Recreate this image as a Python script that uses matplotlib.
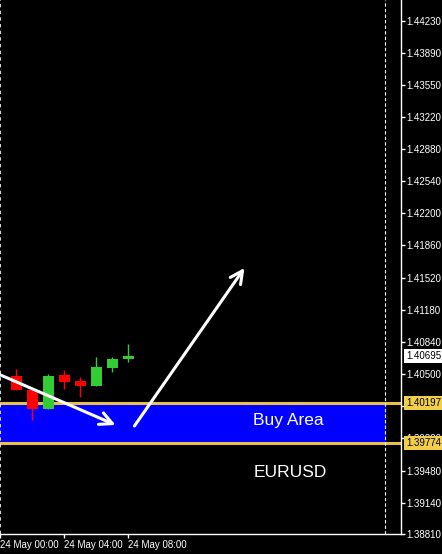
import matplotlib
matplotlib.use("Agg")
import matplotlib.pyplot as plt
import matplotlib.transforms as mtransforms

# hourly candles, hours after 24 May 00:00
hours = [1, 2, 3, 4, 5, 6, 7, 8]
opens = [1.40479, 1.40331, 1.40131, 1.40490, 1.40426, 1.40374, 1.40564, 1.40659]
highs = [1.40555, 1.40331, 1.40500, 1.40543, 1.40469, 1.40680, 1.40680, 1.40817]
lows = [1.40331, 1.40014, 1.40131, 1.40342, 1.40257, 1.40374, 1.40521, 1.40627]
closes = [1.40331, 1.40131, 1.40479, 1.40416, 1.40374, 1.40574, 1.40659, 1.40695]

y_ticks = [1.44230, 1.43890, 1.43550, 1.43220, 1.42880, 1.42540, 1.42200, 1.41860,
           1.41520, 1.41180, 1.40840, 1.40500, 1.40160, 1.39820, 1.39480, 1.39140, 1.38810]
# 1.40160 sits under the 1.40197 marker, so its label is left blank
y_labels = [f"{v:.5f}" if v != 1.40160 else "" for v in y_ticks]
x_ticks = [0, 4, 8]
x_labels = ["24 May 00:00", "24 May 04:00", "24 May 08:00"]

buy_top = 1.40197
buy_bottom = 1.39774
last_price = 1.40695

# drawn arrows: (start hour, start price, end hour, end price)
arrows = [(0.0, 1.40490, 7.19, 1.39962),
          (8.37, 1.39951, 15.25, 1.41621)]

fig = plt.figure(figsize=(4.42, 5.54), dpi=100, facecolor="black")
ax = fig.add_axes([0, 20 / 554, 401 / 442, 534 / 554])
ax.set_facecolor("black")
ax.set_xlim(-0.03, 25.03)
ax.set_ylim(1.38810, 1.44452)

# buy zone
ax.fill_between([-0.03, 24.0], buy_bottom, buy_top, color="#0000ff", zorder=1)
ax.axhline(buy_top, color="#e8c04c", lw=2.2, zorder=2)
ax.axhline(buy_bottom, color="#e8c04c", lw=2.2, zorder=2)
ax.axvline(24.0, color="white", lw=0.8, ls=(0, (3, 2)), zorder=2)
ax.axvline(0.0, color="white", lw=1.2, ls=(0, (2, 2)), zorder=2)

# candles
for h, o, hi, lo, c in zip(hours, opens, highs, lows, closes):
    col = "#32cd32" if c >= o else "#ff0000"
    ax.vlines(h, lo, hi, color=col, lw=1, zorder=3)
    ax.bar(h, abs(c - o), bottom=min(o, c), width=0.69, color=col, zorder=3)

for x0, y0, x1, y1 in arrows:
    ax.annotate("", xy=(x1, y1), xytext=(x0, y0),
                arrowprops=dict(arrowstyle="->,head_length=0.9,head_width=0.45",
                                color="white", lw=2.2, shrinkA=0, shrinkB=0),
                zorder=4)

ax.text(15.8, 1.40004, "Buy Area", color="white", fontsize=12.5,
        family="Liberation Sans", va="center", ha="left", zorder=5)
ax.text(15.8, 1.39455, "EURUSD", color="white", fontsize=12.5,
        family="Liberation Sans", va="center", ha="left", zorder=5)

# axes styling
for side in ["left", "top"]:
    ax.spines[side].set_visible(False)
for side in ["right", "bottom"]:
    ax.spines[side].set_color("white")
    ax.spines[side].set_linewidth(1)
ax.yaxis.tick_right()
ax.set_yticks(y_ticks)
ax.set_yticklabels(y_labels)
ax.set_xticks(x_ticks)
ax.set_xticklabels(x_labels, ha="left")
ax.tick_params(colors="white", labelsize=7, length=3, width=1, pad=1)
for lbl in ax.get_xticklabels() + ax.get_yticklabels():
    lbl.set_family("Liberation Sans")

# price labels on the right scale
trans = mtransforms.blended_transform_factory(ax.transAxes, ax.transData)
for price, bg in [(last_price, "white"), (buy_top, "#f2cf4a"), (buy_bottom, "#f2cf4a")]:
    ax.text(1.013, price, f"{price:.5f}", transform=trans, color="black", fontsize=7,
            family="Liberation Sans", va="center", ha="left", clip_on=False, zorder=10,
            bbox=dict(boxstyle="square,pad=0.2", fc=bg, ec="none"))

fig.savefig("out.png", dpi=100, facecolor="black")
